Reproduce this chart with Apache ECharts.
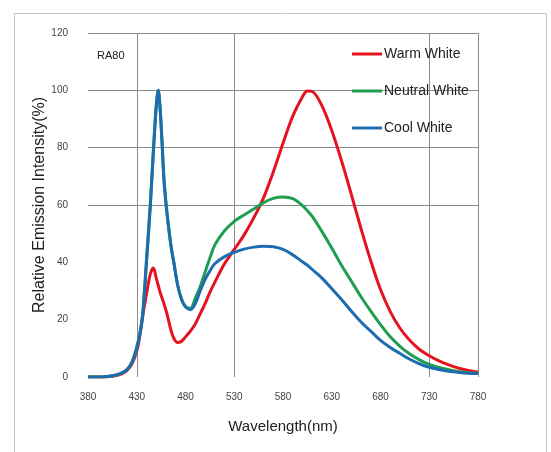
<!DOCTYPE html>
<html>
<head>
<meta charset="utf-8">
<script src="https://cdn.jsdelivr.net/npm/echarts@6/dist/echarts.min.js"></script>
<style>
  html, body { margin: 0; padding: 0; background: #ffffff; }
  #chart { width: 551px; height: 452px; }
</style>
</head>
<body>
<div id="chart"></div>
<script>
// Emission spectra of three white LED colour temperatures (Ra80)
const wavelengths = [380, 390, 400, 410, 415, 420, 425, 430, 433, 436, 440, 444, 447, 450, 452, 454, 456, 458, 461, 465,
  468, 472, 476, 480, 485, 490, 495, 500, 505, 510, 520, 530, 540, 550, 560, 570, 580, 590, 600, 605,
  610, 620, 630, 640, 650, 660, 670, 680, 690, 700, 710, 720, 730, 740, 750, 760, 770, 780];

const warmWhite = [0, 0, 0.1, 0.6, 1.2, 2.3, 4.5, 9, 14, 21, 29, 36, 38, 34.5, 32, 29.5, 27.5, 25.5, 22, 16.5,
  13.5, 12, 12.5, 14, 16, 18.5, 22, 25.5, 29.5, 33, 39.5, 44.5, 49.5, 55.5, 62.5, 71.5, 81.5, 91, 97.8, 99.8,
  99.6, 94.6, 86, 75.5, 63.8, 51.8, 40.5, 30.5, 22.8, 17, 12.8, 9.6, 7.4, 5.6, 4.2, 3.1, 2.3, 1.7];

const neutralWhite = [0, 0, 0.2, 0.8, 1.5, 2.6, 5.2, 10.5, 15, 22, 41, 61, 79, 95, 100, 94, 82, 69, 57.5, 46,
  40, 32, 27, 24.5, 24, 27.5, 31.5, 36.5, 41.5, 46, 51, 54.3, 56.5, 58.6, 60.8, 62.3, 62.8, 62.2, 59.8, 58,
  56, 50.7, 45, 39, 33.5, 28, 23, 18.3, 14, 10.7, 8, 6, 4.4, 3.3, 2.5, 1.9, 1.5, 1.3];

const coolWhite = [0, 0, 0.2, 0.8, 1.5, 2.5, 5, 10, 14.5, 21, 40, 60, 78, 94, 100, 93, 81, 68, 57, 46,
  40, 32, 27, 24.5, 23.5, 25.5, 30, 34, 37, 39.5, 42, 43.5, 44.6, 45.3, 45.6, 45.4, 44.5, 42.6, 40.2, 39,
  37.5, 34.5, 30.8, 27, 23, 19.2, 16, 12.8, 10.3, 8.2, 6.2, 4.6, 3.4, 2.6, 2.0, 1.6, 1.3, 1.2];

const seriesNames = ['Warm White', 'Neutral White', 'Cool White'];
const seriesColors = ['#e5131d', '#1f9e50', '#1e6cb0'];

// axis ticks and which of them carry a grid line
const xTickLabels = [380, 430, 480, 530, 580, 630, 680, 730, 780];
const xGridAt = [430, 530, 730, 780];
const yTickLabels = [0, 20, 40, 60, 80, 100, 120];
const yGridAt = [60, 80, 100, 120];

const gridColor = '#8a8a8a';
const X_MIN = 380, X_MAX = 780, X_STEP = 10;

// split-line colours per 10 nm tick: only selected ticks are drawn
const xSplitColors = [];
for (let v = X_MIN; v <= X_MAX; v += X_STEP) {
  xSplitColors.push(xGridAt.indexOf(v) >= 0 ? gridColor : 'rgba(0,0,0,0)');
}
const ySplitColors = yTickLabels.map(v => yGridAt.indexOf(v) >= 0 ? gridColor : 'rgba(0,0,0,0)');

const toPairs = vals => wavelengths.map((w, i) => [w, vals[i]]);
const allValues = [warmWhite, neutralWhite, coolWhite];

const fontFamily = '"Liberation Sans", Arial, sans-serif';

const chart = echarts.init(document.getElementById('chart'), null, { renderer: 'canvas' });

chart.setOption({
  animation: false,
  backgroundColor: '#ffffff',
  textStyle: { fontFamily: fontFamily },
  title: {
    text: 'RA80',
    left: 97,
    top: 50,
    padding: 0,
    textStyle: { fontSize: 11, fontWeight: 'normal', color: '#222', fontFamily: fontFamily }
  },
  graphic: [{
    type: 'rect',
    shape: { x: 14.5, y: 13.5, width: 532, height: 452 },
    style: { fill: 'none', stroke: '#c4c4c4', lineWidth: 1 },
    silent: true
  }],
  legend: {
    orient: 'vertical',
    left: 352,
    top: 47,
    padding: 0,
    itemWidth: 30,
    itemHeight: 3,
    itemGap: 23,
    icon: 'rect',
    data: seriesNames,
    textStyle: { fontSize: 14, color: '#222', fontFamily: fontFamily, padding: [0, 0, 0, -3] }
  },
  grid: { left: 88, right: 73, top: 33, bottom: 75, containLabel: false },
  xAxis: {
    type: 'value',
    min: X_MIN,
    max: X_MAX,
    interval: X_STEP,
    name: 'Wavelength(nm)',
    nameLocation: 'middle',
    nameGap: 42,
    nameTextStyle: { fontSize: 15, color: '#222', fontFamily: fontFamily },
    axisLine: { show: false },
    axisTick: { show: false },
    axisLabel: {
      fontSize: 10,
      color: '#444',
      margin: 15,
      formatter: v => (xTickLabels.indexOf(v) >= 0 ? String(v) : '')
    },
    splitLine: { show: true, lineStyle: { color: xSplitColors, width: 1 } }
  },
  yAxis: {
    type: 'value',
    min: 0,
    max: 120,
    interval: 20,
    name: 'Relative Emission Intensity(%)',
    nameLocation: 'middle',
    nameRotate: 90,
    nameGap: 40,
    nameMoveOverlap: false,
    nameTextStyle: { fontSize: 16, color: '#222', fontFamily: fontFamily },
    axisLine: { show: false },
    axisTick: { show: false },
    axisLabel: { fontSize: 10, color: '#444', margin: 20 },
    splitLine: { show: true, lineStyle: { color: ySplitColors, width: 1 } }
  },
  series: seriesNames.map((name, k) => ({
    name: name,
    type: 'line',
    data: toPairs(allValues[k]),
    smooth: 0.35,
    showSymbol: false,
    symbol: 'none',
    color: seriesColors[k],
    lineStyle: { width: 3, color: seriesColors[k] },
    z: 2 + k
  }))
});
</script>
</body>
</html>
